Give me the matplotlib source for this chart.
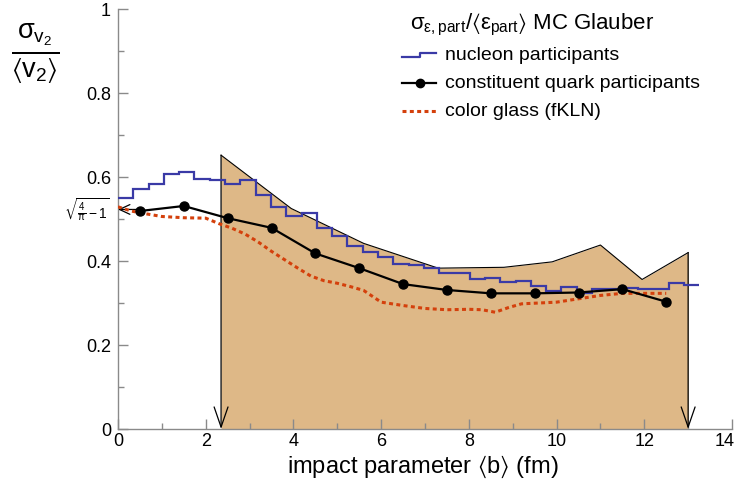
import numpy as np
import matplotlib
matplotlib.use("Agg")
import matplotlib.pyplot as plt
import matplotlib.transforms as mtransforms
from matplotlib.lines import Line2D

plt.rcParams['font.family'] = ['Liberation Sans', 'DejaVu Sans']
plt.rcParams['mathtext.fontset'] = 'custom'
plt.rcParams['mathtext.rm'] = 'Liberation Sans'
plt.rcParams['mathtext.it'] = 'Liberation Sans'
plt.rcParams['mathtext.bf'] = 'Liberation Sans:bold'
plt.rcParams['mathtext.sf'] = 'Liberation Sans'
plt.rcParams['mathtext.fallback'] = 'stixsans'

# ---------------- data ----------------
# systematic band (upper edge) in impact parameter
band_b = [2.35, 3.95, 5.6, 7.3, 8.8, 9.9, 11.0, 11.95, 13.0]
band_hi = [0.652, 0.525, 0.442, 0.383, 0.385, 0.398, 0.438, 0.356, 0.42]

# nucleon participants histogram
nucleon_edges = np.linspace(0.0, 13.25, 39)
nucleon_vals = [0.551, 0.572, 0.584, 0.607, 0.611, 0.595, 0.594, 0.584, 0.592, 0.557,
                0.528, 0.506, 0.515, 0.478, 0.459, 0.436, 0.421, 0.410, 0.394, 0.390,
                0.383, 0.372, 0.372, 0.356, 0.359, 0.349, 0.353, 0.341, 0.329, 0.338,
                0.325, 0.333, 0.333, 0.336, 0.333, 0.333, 0.347, 0.342]

# constituent quark participants
quark_b = [0.5, 1.5, 2.5, 3.5, 4.5, 5.5, 6.5, 7.5, 8.5, 9.5, 10.5, 11.5, 12.5]
quark_vals = [0.519, 0.531, 0.502, 0.479, 0.418, 0.383, 0.345, 0.331, 0.323, 0.323,
              0.325, 0.333, 0.303]

# color glass (fKLN)
fkln_b = [0.0, 0.3, 0.6, 1.0, 1.5, 2.0, 2.3, 2.6, 2.9, 3.2, 3.5, 3.8, 4.1, 4.4, 4.7,
          5.0, 5.3, 5.6, 6.0, 6.5, 7.0, 7.5, 8.0, 8.3, 8.6, 8.9, 9.2, 9.6, 10.0, 10.5,
          11.0, 11.5, 12.0, 12.5]
fkln_vals = [0.529, 0.519, 0.513, 0.506, 0.503, 0.502, 0.489, 0.478, 0.464, 0.445,
             0.423, 0.403, 0.383, 0.364, 0.353, 0.347, 0.339, 0.330, 0.302, 0.294,
             0.287, 0.284, 0.285, 0.284, 0.278, 0.289, 0.298, 0.300, 0.302, 0.310,
             0.318, 0.323, 0.323, 0.323]

sqrt_ref = np.sqrt(4.0 / np.pi - 1.0)
arrow_b = [2.35, 13.0]

xticks = [0, 2, 4, 6, 8, 10, 12, 14]
xtick_labels = ['0', '2', '4', '6', '8', '10', '12', '14']
yticks = [0, 0.2, 0.4, 0.6, 0.8, 1.0]
ytick_labels = ['0', '0.2', '0.4', '0.6', '0.8', '1']

# ---------------- figure ----------------
W, H = 738, 493
fig = plt.figure(figsize=(W / 100, H / 100), dpi=100)
ax = fig.add_axes([118 / W, 64 / H, 614 / W, 420 / H])
ax.set_xlim(0, 14)
ax.set_ylim(0, 1)

grey = '#8a8a8a'
for s in ['top', 'right']:
    ax.spines[s].set_visible(False)
for s in ['left', 'bottom']:
    ax.spines[s].set_color(grey)
    ax.spines[s].set_linewidth(1.0)

ax.set_xticks(xticks)
ax.set_xticklabels(xtick_labels)
ax.set_xticks(np.arange(1, 14, 2), minor=True)
ax.set_yticks(yticks)
ax.set_yticklabels(ytick_labels)
ax.set_yticks(np.arange(0.1, 1.0, 0.2), minor=True)
ax.tick_params(which='both', direction='in', color=grey, labelsize=13, width=1.0)
ax.tick_params(which='major', length=7)
ax.tick_params(which='minor', length=4)
ax.tick_params(axis='x', pad=3)
ax.tick_params(axis='y', pad=5)
last = ax.get_xticklabels()[-1]
last.set_transform(last.get_transform() + mtransforms.ScaledTranslation(-7 / 100, 0, fig.dpi_scale_trans))

# band
ax.fill_between(band_b, 0, band_hi, color='#deb887', lw=0, zorder=1)
ax.plot(band_b, band_hi, color='black', lw=0.8, zorder=2)

# arrows at the band limits
for i, bb in enumerate(arrow_b):
    ax.annotate('', xy=(bb, 0), xytext=(bb, band_hi[0] if i == 0 else band_hi[-1]),
                arrowprops=dict(arrowstyle='->,head_length=1.45,head_width=0.5',
                                lw=0.9, color='black', shrinkA=0, shrinkB=0,
                                mutation_scale=10), zorder=3)
ax.annotate('', xy=(0, sqrt_ref), xytext=(0.45, sqrt_ref),
            arrowprops=dict(arrowstyle='->,head_length=0.75,head_width=0.35',
                            lw=0.9, color='black', shrinkA=0, shrinkB=0,
                            mutation_scale=10), zorder=3, annotation_clip=False)

blue = '#3a3aa6'
red = '#d4400c'

ax.stairs(nucleon_vals, nucleon_edges, color=blue, lw=1.6, zorder=4, baseline=None)
ax.plot(fkln_b, fkln_vals, color=red, lw=2.2, linestyle=(0, (1.3, 1.1)), zorder=5)
ax.plot(quark_b, quark_vals, color='black', lw=1.6, marker='o', ms=6.5, zorder=6)

# labels
ax.text(-0.013, sqrt_ref, r'$\sqrt{\frac{4}{\pi}-1}$', transform=ax.get_yaxis_transform(),
        ha='right', va='center', fontsize=10)
fig.text(35 / W, 1 - 54 / H, r'$\frac{\sigma_{v_2}}{\langle v_2\rangle}$', fontsize=28,
         ha='center', va='center')
fig.text(423 / W, 1 - 467 / H, r'impact parameter $\langle$b$\rangle$ (fm)', fontsize=17,
         ha='center', va='center')

# legend (drawn manually)
def fx(px):
    return px / W

def fy(py):
    return 1 - py / H

fig.text(fx(410), fy(25), r'$\sigma_{\epsilon,\mathrm{part}}/\langle\epsilon_{\mathrm{part}}\rangle$ MC Glauber',
         fontsize=16, ha='left', va='center')
fig.add_artist(Line2D([fx(402), fx(420), fx(420), fx(436)], [fy(57.3), fy(57.3), fy(53.3), fy(53.3)],
                      color=blue, lw=1.6))
fig.add_artist(Line2D([fx(402), fx(436)], [fy(83.3), fy(83.3)], color='black', lw=1.6))
fig.add_artist(Line2D([fx(420)], [fy(83.3)], color='black', marker='o', ms=6, lw=0))
fig.add_artist(Line2D([fx(402), fx(436)], [fy(111), fy(111)], color=red, lw=2.2,
                      linestyle=(0, (1.3, 1.1))))
fig.text(fx(445), fy(55), 'nucleon participants', fontsize=14, ha='left', va='center')
fig.text(fx(445), fy(83), 'constituent quark participants', fontsize=14, ha='left', va='center')
fig.text(fx(445), fy(112), 'color glass (fKLN)', fontsize=14, ha='left', va='center')

fig.savefig('out.png', dpi=100)
